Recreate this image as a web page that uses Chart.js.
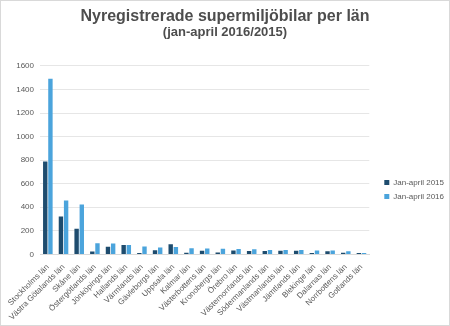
<!DOCTYPE html>
<html><head><meta charset="utf-8">
<script src="https://cdn.jsdelivr.net/npm/chart.js@4/dist/chart.umd.min.js"></script>
<style>
html,body{margin:0;padding:0;background:#fff;}
#wrap{position:absolute;left:0;top:0;width:448px;height:324px;border:1px solid #d9d9d9;}
</style></head>
<body><div id="wrap"><canvas id="c" width="448" height="324"></canvas></div>
<script>
const categories = ["Stockholms län","Västra Götalands län","Skåne län","Östergötlands län","Jönköpings län","Hallands län","Värmlands län","Gävleborgs län","Uppsala län","Kalmar län","Västerbottens län","Kronobergs län","Örebro län","Västernorrlands län","Södermanlands län","Västmanlands län","Jämtlands län","Blekinge län","Dalarnas län","Norrbottens län","Gotlands län"];
const values2015 = [788,322,218,25,65,79,11,36,87,14,31,15,34,29,29,31,31,11,26,14,11];
const values2016 = [1490,457,424,95,93,79,67,59,62,53,51,47,46,43,37,37,37,34,34,26,11];
const yTicks = [0,200,400,600,800,1000,1200,1400,1600];
const seriesNames = ["Jan-april 2015","Jan-april 2016"];
const titleText = "Nyregistrerade supermiljöbilar per län";
const subtitleText = "(jan-april 2016/2015)";

Chart.defaults.font.family = "'Liberation Sans', Arial, sans-serif";
Chart.defaults.color = "#595959";
const legendShift = {
  id: 'legendShift',
  afterLayout(chart) {
    const l = chart.legend;
    if (l) { l.top += 27; l.bottom += 27; l.left += 9; l.right += 9; }
  }
};
new Chart(document.getElementById('c'), {
  type: 'bar',
  data: {
    labels: categories,
    datasets: [
      {label: seriesNames[0], data: values2015, backgroundColor: '#1e4c6e', categoryPercentage: 0.66, barPercentage: 0.85},
      {label: seriesNames[1], data: values2016, backgroundColor: '#4ba4dc', categoryPercentage: 0.66, barPercentage: 0.85}
    ]
  },
  plugins: [legendShift],
  options: {
    responsive: false,
    animation: false,
    layout: {padding: {left: 4, right: 4, top: 2, bottom: 3}},
    plugins: {
      title: {display: true, text: titleText, color: '#4d4d4d', font: {size: 16, weight: 'bold', lineHeight: 1.1}, padding: {top: 5, bottom: 0}},
      subtitle: {display: true, text: subtitleText, color: '#4d4d4d', font: {size: 13, weight: 'bold', lineHeight: 1.1}, padding: {top: 0, bottom: 26}},
      legend: {position: 'right', align: 'center', labels: {boxWidth: 5, boxHeight: 5, padding: 6, color: '#595959', font: {size: 8}}},
      tooltip: {enabled: false}
    },
    scales: {
      x: {grid: {display: false}, border: {color: '#d9d9d9'},
          afterFit: s => { s.paddingLeft = 0; },
          ticks: {minRotation: 45, maxRotation: 45, autoSkip: false, font: {size: 8}, color: '#595959', padding: 0}},
      y: {min: 0, max: 1600, afterBuildTicks: a => { a.ticks = yTicks.map(v => ({value: v})); },
          afterFit: s => { s.width = 35; },
          grid: {color: '#e6e6e6', drawTicks: false}, border: {display: false},
          ticks: {font: {size: 8}, color: '#595959', padding: 6, callback: v => String(v)}}
    }
  }
});
</script></body></html>
